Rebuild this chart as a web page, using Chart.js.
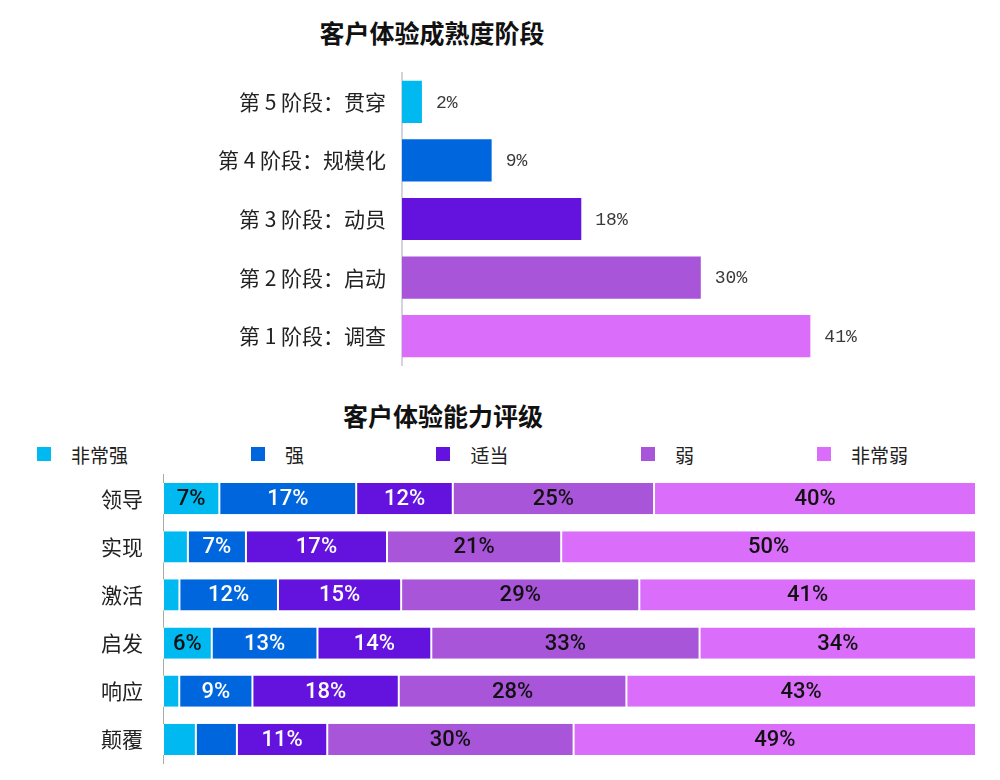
<!DOCTYPE html>
<html>
<head>
<meta charset="utf-8">
<script src="https://cdn.jsdelivr.net/npm/chart.js@4.4.0/dist/chart.umd.min.js"></script>
<style>
  html, body { margin: 0; padding: 0; background: #fff; }
  body { width: 1000px; height: 780px; position: relative; overflow: hidden; font-family: 'Noto Sans CJK SC', sans-serif; }
  .title { position: absolute; font-size: 25px; font-weight: bold; color: #111; transform: translate(-50%, -50%); white-space: nowrap; }
  /* tick padding + half label height (~29/33px) is reserved above and below the chart area */
  #stageWrap { position: absolute; left: 0; top: 44px; width: 1000px; height: 350px; }
  #ratingWrap { position: absolute; left: 0; top: 442px; width: 1000px; height: 354px; }
  #legend { position: absolute; left: -15px; top: 440px; width: 975px; height: 28px; display: grid; grid-template-columns: repeat(5, 1fr); }
  .item { display: flex; align-items: center; justify-content: center; gap: 20px; font-size: 19px; color: #222; }
  .swatch { width: 14px; height: 14px; }
</style>
</head>
<body>
<div class="title" style="left: 432px; top: 32px;">客户体验成熟度阶段</div>
<div id="stageWrap"><canvas id="stageChart"></canvas></div>

<div class="title" style="left: 443px; top: 415px;">客户体验能力评级</div>
<div id="legend"></div>
<div id="ratingWrap"><canvas id="ratingChart"></canvas></div>

<script>
// top chart: maturity stages
const stageLabels = ['第 5 阶段：贯穿', '第 4 阶段：规模化', '第 3 阶段：动员', '第 2 阶段：启动', '第 1 阶段：调查'];
const stageValues = [2, 9, 18, 30, 41];

// bottom chart: capability ratings (percent per row)
const ratingCategories = ['领导', '实现', '激活', '启发', '响应', '颠覆'];
const seriesNames = ['非常强', '强', '适当', '弱', '非常弱'];
const veryStrong = [7, 3, 2, 6, 2, 4];
const strong = [17, 7, 12, 13, 9, 5];
const adequate = [12, 17, 15, 14, 18, 11];
const weak = [25, 21, 29, 33, 28, 30];
const veryWeak = [40, 50, 41, 34, 43, 49];

const palette = ['#00B9F1', '#0066DD', '#6313DD', '#A855D9', '#DA6EFB'];
const labelColors = ['#111', '#fff', '#fff', '#111', '#111'];

Chart.defaults.font.family = "'Noto Sans CJK SC', sans-serif";

const valueLabels = {
  id: 'valueLabels',
  afterDatasetsDraw(chart) {
    const ctx = chart.ctx;
    ctx.save();
    ctx.font = "18px 'Liberation Mono', monospace";
    ctx.fillStyle = '#3a3a3a';
    ctx.textAlign = 'left';
    ctx.textBaseline = 'middle';
    chart.getDatasetMeta(0).data.forEach((bar, i) => {
      ctx.fillText(stageValues[i] + '%', bar.x + 14, bar.y + 1);
    });
    ctx.restore();
  }
};

new Chart(document.getElementById('stageChart'), {
  type: 'bar',
  data: {
    labels: stageLabels,
    datasets: [{
      data: stageValues,
      backgroundColor: palette,
      barPercentage: 0.72,
      categoryPercentage: 1
    }]
  },
  options: {
    indexAxis: 'y',
    responsive: true,
    maintainAspectRatio: false,
    animation: false,
    layout: { padding: { right: 100 } },
    plugins: { legend: { display: false }, tooltip: { enabled: false } },
    scales: {
      x: { display: false, min: 0, max: 50 },
      y: {
        grid: { display: false, drawTicks: false },
        border: { color: '#d4d4dc', width: 2 },
        ticks: { color: '#222', font: { size: 21 }, padding: 16 },
        afterFit: (s) => { s.width = 402; }
      }
    }
  },
  plugins: [valueLabels]
});

// legend
const legend = document.getElementById('legend');
seriesNames.forEach((name, i) => {
  const item = document.createElement('div');
  item.className = 'item';
  item.innerHTML = '<span class="swatch" style="background:' + palette[i] + '"></span><span>' + name + '</span>';
  legend.appendChild(item);
});

const ratingSeries = [veryStrong, strong, adequate, weak, veryWeak];
const rowTotals = ratingCategories.map((_, j) => ratingSeries.reduce((s, arr) => s + arr[j], 0));

const segmentLabels = {
  id: 'segmentLabels',
  afterDatasetsDraw(chart) {
    const ctx = chart.ctx;
    ctx.save();
    ctx.font = '500 22px Roboto';
    ctx.textAlign = 'center';
    ctx.textBaseline = 'middle';
    chart.data.datasets.forEach((ds, i) => {
      chart.getDatasetMeta(i).data.forEach((bar, j) => {
        const v = ds.raw[j];
        if (v < 6) return;
        ctx.fillStyle = labelColors[i];
        ctx.fillText(v + '%', (bar.x + bar.base) / 2, bar.y + 1);
      });
    });
    ctx.restore();
  }
};

new Chart(document.getElementById('ratingChart'), {
  type: 'bar',
  data: {
    labels: ratingCategories,
    datasets: ratingSeries.map((arr, i) => ({
      label: seriesNames[i],
      raw: arr,
      data: arr.map((v, j) => v / rowTotals[j] * 100),
      backgroundColor: palette[i],
      borderColor: '#fff',
      borderWidth: { left: 1, right: 1, top: 0, bottom: 0 },
      borderSkipped: false,
      barPercentage: 0.65,
      categoryPercentage: 1
    }))
  },
  options: {
    indexAxis: 'y',
    responsive: true,
    maintainAspectRatio: false,
    animation: false,
    layout: { padding: { right: 24 } },
    plugins: { legend: { display: false }, tooltip: { enabled: false } },
    scales: {
      x: { display: false, stacked: true, min: 0, max: 100 },
      y: {
        stacked: true,
        grid: { display: false, drawTicks: false },
        border: { color: '#aaa', width: 1 },
        ticks: { color: '#222', font: { size: 21 }, padding: 20 },
        afterFit: (s) => { s.width = 163; }
      }
    }
  },
  plugins: [segmentLabels]
});
</script>
</body>
</html>
